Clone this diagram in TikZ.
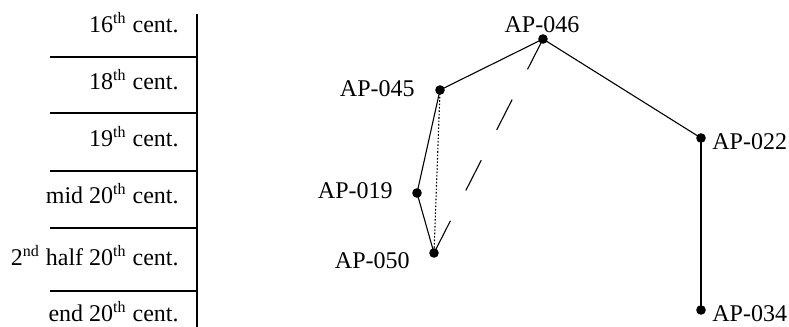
\documentclass[tikz,border=0pt]{standalone}
\usepackage{fontspec}
\setmainfont{Liberation Serif}
\begin{document}
\begin{tikzpicture}[x=0.5pt,y=-0.5pt,
  rule/.style={line width=0.55pt},
  link/.style={line width=0.55pt},
  dotlink/.style={line width=0.55pt,dash pattern=on 0.8pt off 0.9pt},
  longdash/.style={line width=0.55pt,dash pattern=on 17pt off 17pt},
  vertex/.style={circle,fill,inner sep=0pt,minimum size=4.8pt},
  period/.style={anchor=base east,inner sep=0pt,font=\fontsize{12pt}{14pt}\selectfont},
  tag/.style={inner sep=0pt,font=\fontsize{12pt}{14pt}\selectfont}]
\useasboundingbox (0,0) rectangle (789,327);

% time axis
\coordinate (axtop) at (197,14);
\coordinate (axbot) at (197,327);
\draw[rule] (axtop) -- (axbot);
\foreach \yy in {57,113,171,228,291}
  \draw[rule] (50,\yy) -- (197,\yy);

% period labels
\node[period] (p16) at (179,32) {16\textsuperscript{th} cent.};
\node[period] (p18) at (179,89) {18\textsuperscript{th} cent.};
\node[period] (p19) at (179,146) {19\textsuperscript{th} cent.};
\node[period] (pmid) at (179,203) {mid 20\textsuperscript{th} cent.};
\node[period] (phalf) at (179,265) {2\textsuperscript{nd} half 20\textsuperscript{th} cent.};
\node[period] (pend) at (179,321) {end 20\textsuperscript{th} cent.};

% vertices
\coordinate (c046) at (543,39);
\coordinate (c045) at (440,90);
\coordinate (c019) at (417,193);
\coordinate (c050) at (434,253);
\coordinate (c022) at (701,138);
\coordinate (c034) at (701,310);

% links
\draw[link] (c046) -- (c045);
\draw[link] (c046) -- (c022);
\draw[link] (c045) -- (c019);
\draw[link] (c019) -- (c050);
\draw[link] (c022) -- (c034);
\draw[dotlink] (c045) -- (c050);
\draw[longdash] (c046) -- (c050);

\foreach \v in {046,045,019,050,022,034}
  \node[vertex] (v\v) at (c\v) {};

% vertex labels
\node[tag,anchor=base] (t046) at (542,32) {AP-046};
\node[tag,anchor=base east] (t045) at (415,96) {AP-045};
\node[tag,anchor=base east] (t019) at (393,198) {AP-019};
\node[tag,anchor=base east] (t050) at (410,268) {AP-050};
\node[tag,anchor=base west] (t022) at (712,149) {AP-022};
\node[tag,anchor=base west] (t034) at (712,321) {AP-034};
\end{tikzpicture}
\end{document}
